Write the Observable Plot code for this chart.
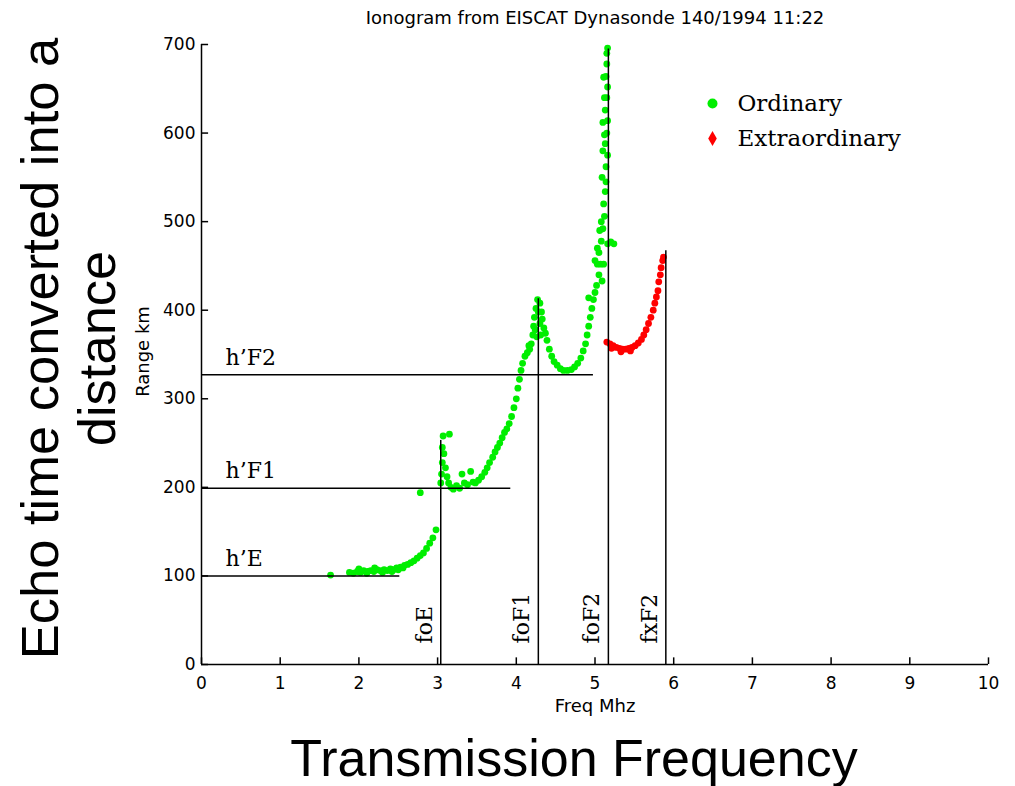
<!DOCTYPE html>
<html><head><meta charset="utf-8">
<script src="https://cdn.jsdelivr.net/npm/d3@7"></script>
<script src="https://cdn.jsdelivr.net/npm/@observablehq/plot@0.6"></script>
<style>html,body{margin:0;padding:0;background:#fff;}</style>
</head><body><div id="chart"></div>
<script>
const title = "Ionogram from EISCAT Dynasonde 140/1994 11:22";
const xLabel = "Freq Mhz";
const yLabel = "Range km";
const bigXLabel = "Transmission Frequency";
const bigYLabel = "Echo time converted into a\ndistance";
const xTicks = [0, 1, 2, 3, 4, 5, 6, 7, 8, 9, 10];
const yTicks = [0, 100, 200, 300, 400, 500, 600, 700];

// Ordinary (O-mode) echoes: [frequency MHz, range km]
const ordinary = [
  [1.64,101],[1.88,104],[1.93,103],[1.98,105],[2.02,104],[2.06,106],[2.11,105],[2.15,106],
  [2.19,105],[2.23,107],[2.27,106],[2.32,107],[2.36,106],[2.40,108],[2.44,107],[2.48,109],
  [2.00,108],[2.10,103],[2.20,109],[2.30,104],[2.42,105],[2.50,107],[2.56,109],
  [2.53,110],[2.58,112],[2.62,113],[2.66,115],[2.70,117],[2.74,120],[2.78,123],[2.82,126],
  [2.86,131],[2.90,137],[2.94,143],[2.98,152],[2.78,194],[3.04,205],[3.05,215],[3.06,228],
  [3.06,245],[3.07,258],[3.15,260],[3.08,238],[3.10,222],[3.12,212],[3.14,205],[3.17,200],
  [3.20,198],[3.24,202],[3.28,199],[3.31,215],[3.34,205],[3.38,203],[3.42,218],[3.45,206],
  [3.48,205],[3.52,208],[3.56,212],[3.60,217],[3.63,222],[3.66,228],[3.70,234],[3.73,240],
  [3.76,245],[3.79,250],[3.82,256],[3.85,262],[3.88,266],[3.91,272],[3.94,280],[3.97,290],
  [4.00,300],[4.02,312],[4.04,322],[4.06,332],[4.08,340],[4.11,348],[4.14,352],[4.17,356],
  [4.19,362],[4.21,372],[4.22,382],[4.23,392],[4.25,402],[4.27,412],[4.30,408],[4.32,398],
  [4.28,398],[4.30,385],[4.26,370],[4.31,372],[4.16,360],[4.24,378],
  [4.33,390],[4.35,380],[4.37,374],[4.39,366],[4.42,356],[4.45,348],[4.48,342],[4.52,338],
  [4.56,334],[4.60,332],[4.65,332],[4.70,333],[4.74,336],[4.78,340],[4.82,346],[4.85,354],
  [4.88,362],[4.90,372],[4.92,382],[4.94,392],[4.96,402],[4.98,412],[5.00,420],[5.02,428],
  [4.92,414],[5.05,440],[5.03,452],[5.09,433],[5.00,456],[5.07,452],[5.11,452],[5.05,465],
  [5.24,475],[5.16,475],[5.08,478],[5.10,492],[5.12,506],[5.11,520],[5.13,534],[5.09,550],
  [5.14,562],[5.16,575],[5.13,588],[5.15,600],[5.16,614],[5.13,626],[5.15,640],[5.16,652],
  [5.14,664],[5.15,678],[5.15,690],[5.16,696],
  [5.11,663],[5.12,640],[5.10,612],[5.14,545],[5.08,500],[5.03,470],[5.06,490],[5.20,477],
  [5.10,580],[5.12,598]
];
// Extraordinary (X-mode) echoes
const extraordinary = [
  [5.15,364],[5.19,362],[5.23,360],[5.27,358],[5.31,357],[5.35,356],[5.39,356],[5.43,357],
  [5.47,358],[5.51,360],[5.55,363],[5.59,367],[5.62,372],[5.65,378],[5.68,385],[5.71,392],
  [5.74,400],[5.76,408],[5.78,415],[5.80,422],[5.81,432],[5.83,440],[5.84,448],[5.86,456],
  [5.87,460],[5.21,357],[5.33,353],[5.45,354]
];

// Virtual heights (horizontal guides)
const heightNames = ["h\u2019E", "h\u2019F1", "h\u2019F2"];
const heightValues = [100, 199, 327];
const heightEnds = [2.52, 3.93, 4.98];
// Critical frequencies (vertical guides)
const critNames = ["foE", "foF1", "foF2", "fxF2"];
const critFreqs = [3.04, 4.28, 5.17, 5.90];
const critTops = [253, 413, 695, 467];

const legendNames = ["Ordinary", "Extraordinary"];
const legendColors = ["#00ee00", "#ff0000"];
const legendSymbols = ["circle", "diamond"];

const heights = heightNames.map((n, i) => ({name: n, y: heightValues[i], x2: heightEnds[i]}));
const crits = critNames.map((n, i) => ({name: n, x: critFreqs[i], y2: critTops[i]}));

const sans = "DejaVu Sans, sans-serif";
const serif = "DejaVu Serif, serif";
const big = "Liberation Sans, Arial, sans-serif";

const legendMarks = legendNames.flatMap((name, i) => [
  Plot.dot([name], {frameAnchor: "top-right", dx: -276, dy: 59 + 35 * i, r: i === 0 ? 5 : 4.5,
    symbol: legendSymbols[i], fill: legendColors[i], stroke: "none"}),
  Plot.text([name], {frameAnchor: "top-right", dx: -251, dy: 59 + 35 * i, text: d => d,
    textAnchor: "start", lineAnchor: "middle", fontFamily: serif, fontSize: 23, fill: "#000"})
]);

const chart = Plot.plot({
  width: 1015,
  height: 786,
  marginLeft: 201,
  marginRight: 27,
  marginTop: 44,
  marginBottom: 122,
  x: {domain: [0, 10], axis: null},
  y: {domain: [0, 700], axis: null},
  style: {background: "#fff", overflow: "visible"},
  marks: [
    // axes
    Plot.ruleX([0], {y1: 0, y2: 700, stroke: "#000", strokeWidth: 1.5}),
    Plot.ruleY([0], {x1: 0, x2: 10, stroke: "#000", strokeWidth: 1.5}),
    Plot.ruleX(xTicks, {x: d => d, y1: 0, y2: 7.5, stroke: "#000", strokeWidth: 1.5}),
    Plot.ruleY(yTicks, {y: d => d, x1: 0, x2: 0.09, stroke: "#000", strokeWidth: 1.5}),
    Plot.text(xTicks, {x: d => d, frameAnchor: "bottom", dy: 19, lineAnchor: "middle", text: d => String(d),
      fontFamily: sans, fontSize: 17, fill: "#000"}),
    Plot.text(yTicks, {y: d => d, frameAnchor: "left", dx: -6, textAnchor: "end", lineAnchor: "middle", text: d => String(d),
      fontFamily: sans, fontSize: 17, fill: "#000"}),
    Plot.text([xLabel], {frameAnchor: "bottom", dy: 42, lineAnchor: "middle", text: d => d, fontFamily: sans, fontSize: 18, fill: "#000"}),
    Plot.text([yLabel], {frameAnchor: "left", dx: -58, dy: -3, rotate: -90, textAnchor: "middle", lineAnchor: "middle",
      text: d => d, fontFamily: sans, fontSize: 18, fill: "#000"}),
    Plot.text([title], {frameAnchor: "top", dy: -21, lineAnchor: "bottom", text: d => d, fontFamily: sans, fontSize: 18, fill: "#000"}),
    // big descriptive labels
    Plot.text([bigXLabel], {frameAnchor: "bottom", dx: -21, dy: 111, lineAnchor: "bottom", text: d => d, fontFamily: big, fontSize: 52, fill: "#000"}),
    Plot.text([bigYLabel], {frameAnchor: "left", dx: -133, dy: -6, rotate: -90, textAnchor: "middle", lineAnchor: "middle", lineHeight: 1.08,
      text: d => d, fontFamily: big, fontSize: 52.5, fill: "#000"}),
    // data
    Plot.dot(ordinary, {x: d => d[0], y: d => d[1], r: 3.4, fill: "#00ee00", stroke: "none"}),
    Plot.dot(extraordinary, {x: d => d[0], y: d => d[1], r: 3.4, fill: "#ff0000", stroke: "none"}),
    // guides
    Plot.ruleY(heights, {y: "y", x1: 0, x2: "x2", stroke: "#000", strokeWidth: 1.5}),
    Plot.ruleX(crits, {x: "x", y1: 0, y2: "y2", stroke: "#000", strokeWidth: 1.5}),
    Plot.text(heights, {y: "y", frameAnchor: "left", dx: 24, dy: -17, textAnchor: "start", lineAnchor: "middle",
      text: "name", fontFamily: serif, fontSize: 22, fill: "#000"}),
    Plot.text(crits, {x: "x", frameAnchor: "bottom", dx: -16, dy: -21, rotate: -90, textAnchor: "start", lineAnchor: "middle",
      text: "name", fontFamily: serif, fontSize: 22, fill: "#000"}),
    ...legendMarks
  ]
});
document.getElementById("chart").appendChild(chart);
</script>
</body></html>
